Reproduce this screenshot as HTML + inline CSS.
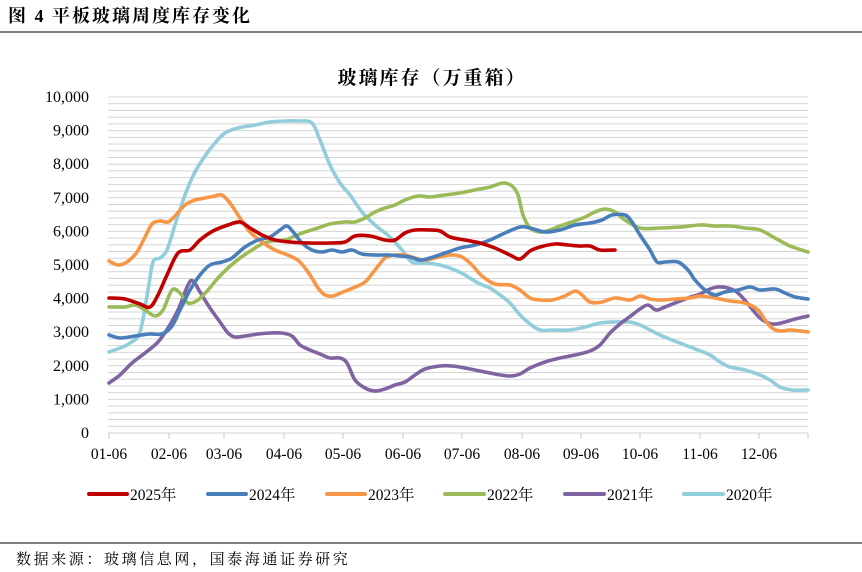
<!DOCTYPE html>
<html><head><meta charset="utf-8"><style>
html,body{margin:0;padding:0;background:#fff}
svg{display:block}
text{font-family:"Liberation Serif","Noto Serif CJK SC",serif;fill:#000}
</style></head><body>
<svg id="s" width="862" height="572" viewBox="0 0 862 572" xmlns="http://www.w3.org/2000/svg">
<text x="8" y="22" font-size="18" font-weight="bold" letter-spacing="2">图 4  平板玻璃周度库存变化</text>
<line x1="0" y1="32" x2="862" y2="32" stroke="#000" stroke-width="1"/>
<text x="432" y="84" font-size="19" font-weight="bold" text-anchor="middle" letter-spacing="2">玻璃库存（万重箱）</text>
<g id="grid"></g>
<g id="ylab" font-size="16"></g>
<g id="xlab" font-size="15.5"></g>
<g id="series" fill="none" stroke-width="3.6" stroke-linejoin="round" stroke-linecap="round"></g>
<g font-size="15.5">
<line x1="89" y1="494" x2="127" y2="494" stroke="#C00000" stroke-width="4" stroke-linecap="round"/><text x="130" y="500">2025年</text>
<line x1="208" y1="494" x2="246" y2="494" stroke="#4A7EBB" stroke-width="4" stroke-linecap="round"/><text x="249" y="500">2024年</text>
<line x1="327" y1="494" x2="365" y2="494" stroke="#F79646" stroke-width="4" stroke-linecap="round"/><text x="368" y="500">2023年</text>
<line x1="445" y1="494" x2="484" y2="494" stroke="#9BBB59" stroke-width="4" stroke-linecap="round"/><text x="487" y="500">2022年</text>
<line x1="565" y1="494" x2="604" y2="494" stroke="#8064A2" stroke-width="4" stroke-linecap="round"/><text x="607" y="500">2021年</text>
<line x1="684" y1="494" x2="723" y2="494" stroke="#92CDDC" stroke-width="4" stroke-linecap="round"/><text x="726" y="500">2020年</text>
</g>
<line x1="0" y1="543" x2="862" y2="543" stroke="#000" stroke-width="1"/>
<text x="16" y="564" font-size="15" letter-spacing="2.6">数据来源：玻璃信息网，国泰海通证券研究</text>
</svg>
<script>
var NS="http://www.w3.org/2000/svg";
function el(t,a,p){var e=document.createElementNS(NS,t);for(var k in a)e.setAttribute(k,a[k]);document.getElementById(p).appendChild(e);return e;}
for(var i=1;i<=50;i++){var y=433-i*6.72;el("line",{x1:108,x2:808,y1:y,y2:y,stroke:"#d4d4d4","stroke-width":1},"grid");}
el("line",{x1:108,x2:808,y1:433,y2:433,stroke:"#d0d0d0","stroke-width":1},"grid");
var xt=[109,169,224,284,343,403,462,522,581,640,700,759,808];
xt.forEach(function(x){el("line",{x1:x,x2:x,y1:433,y2:439,stroke:"#c8c8c8","stroke-width":1},"grid");});
var lab=["01-06","02-06","03-06","04-06","05-06","06-06","07-06","08-06","09-06","10-06","11-06","12-06"];
lab.forEach(function(l,i){var t=el("text",{x:xt[i],y:459,"text-anchor":"middle"},"xlab");t.textContent=l;});
for(var v=0;v<=10;v++){var t=el("text",{x:89,y:433-v*33.6+5,"text-anchor":"end"},"ylab");t.textContent=v==0?"0":(v==10?"10,000":v+",000");}
function path(p){var d="M"+p[0][0]+","+p[0][1];for(var i=0;i<p.length-1;i++){var p0=p[i-1]||p[i],p1=p[i],p2=p[i+1],p3=p[i+2]||p2;
d+=" C"+(p1[0]+(p2[0]-p0[0])/6)+","+(p1[1]+(p2[1]-p0[1])/6)+" "+(p2[0]-(p3[0]-p1[0])/6)+","+(p2[1]-(p3[1]-p1[1])/6)+" "+p2[0]+","+p2[1];}return d;}
var S=[
["#92CDDC",[[109,352],[120,348],[130,343],[140,332],[148,290],[153,262],[160,258],[167,250],[175,225],[185,195],[195,172],[205,156],[215,143],[225,133],[238,128],[255,125],[270,122],[285,121],[300,121],[312,123],[320,140],[330,165],[340,183],[350,195],[362,212],[375,225],[390,237],[402,250],[412,262],[425,263],[440,265],[455,270],[465,275],[478,283],[490,288],[500,295],[510,303],[520,315],[530,324],[540,330],[552,330],[570,330],[585,327],[600,323],[615,322],[630,322],[640,325],[650,330],[660,335],[672,340],[685,345],[698,350],[710,355],[720,362],[730,367],[745,370],[760,375],[770,380],[780,387],[792,390],[808,390]]],
["#8064A2",[[109,383],[120,375],[132,363],[145,353],[158,342],[168,328],[178,310],[188,285],[193,281],[200,292],[210,308],[220,322],[228,333],[235,337],[245,336],[258,334],[270,333],[282,333],[292,336],[300,345],[310,350],[320,354],[330,358],[340,358],[347,363],[355,380],[365,388],[375,391],[385,389],[395,385],[405,382],[415,375],[425,369],[440,366],[452,366],[465,368],[480,371],[495,374],[510,376],[520,374],[530,368],[545,362],[560,358],[575,355],[590,351],[600,345],[610,333],[620,324],[632,315],[640,309],[648,305],[656,310],[665,307],[675,303],[688,298],[700,294],[710,289],[718,287],[728,288],[738,293],[748,304],[760,318],[772,324],[785,322],[795,319],[808,316]]],
["#9BBB59",[[109,307],[125,307],[135,305],[145,310],[155,316],[163,310],[172,290],[180,293],[188,303],[198,300],[208,290],[218,278],[228,268],[240,258],[252,250],[262,244],[272,241],[285,240],[295,236],[305,232],[318,228],[330,224],[345,222],[355,222],[365,218],[375,212],[385,208],[395,205],[405,200],[418,196],[430,197],[445,195],[460,193],[475,190],[490,187],[503,183],[512,186],[518,195],[523,215],[530,228],[540,232],[550,230],[560,226],[575,221],[585,217],[595,212],[605,209],[615,212],[625,220],[640,228],[660,228],[680,227],[700,225],[715,226],[730,226],[745,228],[760,230],[775,238],[790,246],[808,252]]],
["#F79646",[[109,261],[118,265],[127,262],[137,252],[145,237],[152,224],[160,221],[168,222],[175,216],[185,205],[195,200],[205,198],[215,196],[222,195],[230,203],[240,218],[250,232],[262,242],[275,250],[290,256],[300,262],[310,275],[318,288],[325,295],[333,296],[343,292],[353,288],[365,282],[375,270],[385,258],[395,255],[405,255],[415,258],[425,260],[435,258],[450,255],[462,257],[472,265],[482,276],[495,284],[510,285],[520,290],[530,298],[540,300],[552,300],[565,296],[575,291],[582,295],[590,302],[602,302],[615,298],[630,300],[640,296],[650,299],[660,300],[675,299],[690,298],[700,296],[715,298],[730,301],[745,303],[758,310],[765,320],[772,328],[780,331],[790,330],[800,331],[808,332]]],
["#4A7EBB",[[109,335],[120,338],[135,336],[150,334],[162,334],[172,326],[180,310],[190,290],[200,275],[210,265],[222,262],[232,258],[245,247],[258,240],[270,237],[280,230],[287,226],[294,233],[302,243],[312,250],[322,252],[332,250],[342,252],[352,250],[362,254],[375,255],[390,255],[400,256],[410,257],[420,260],[430,258],[445,253],[460,248],[475,245],[490,240],[505,233],[520,227],[530,228],[545,232],[560,230],[575,225],[590,223],[602,220],[612,215],[625,215],[632,222],[640,235],[650,250],[657,262],[665,262],[678,262],[688,270],[695,280],[705,290],[715,295],[725,292],[738,290],[750,287],[760,290],[775,289],[785,293],[795,297],[808,299]]],
["#C00000",[[109,298],[125,299],[140,304],[150,307],[158,295],[167,275],[178,253],[190,250],[200,240],[213,231],[228,225],[240,222],[250,228],[262,235],[275,240],[290,242],[310,243],[330,243],[345,242],[355,236],[370,236],[385,240],[395,240],[405,233],[415,230],[430,230],[440,231],[450,237],[465,240],[480,243],[495,248],[510,255],[520,259],[530,251],[540,247],[555,244],[568,245],[580,246],[590,246],[600,250],[615,250]]]
];
S.forEach(function(s){el("path",{d:path(s[1]),stroke:s[0]},"series");});
</script>
</body></html>
